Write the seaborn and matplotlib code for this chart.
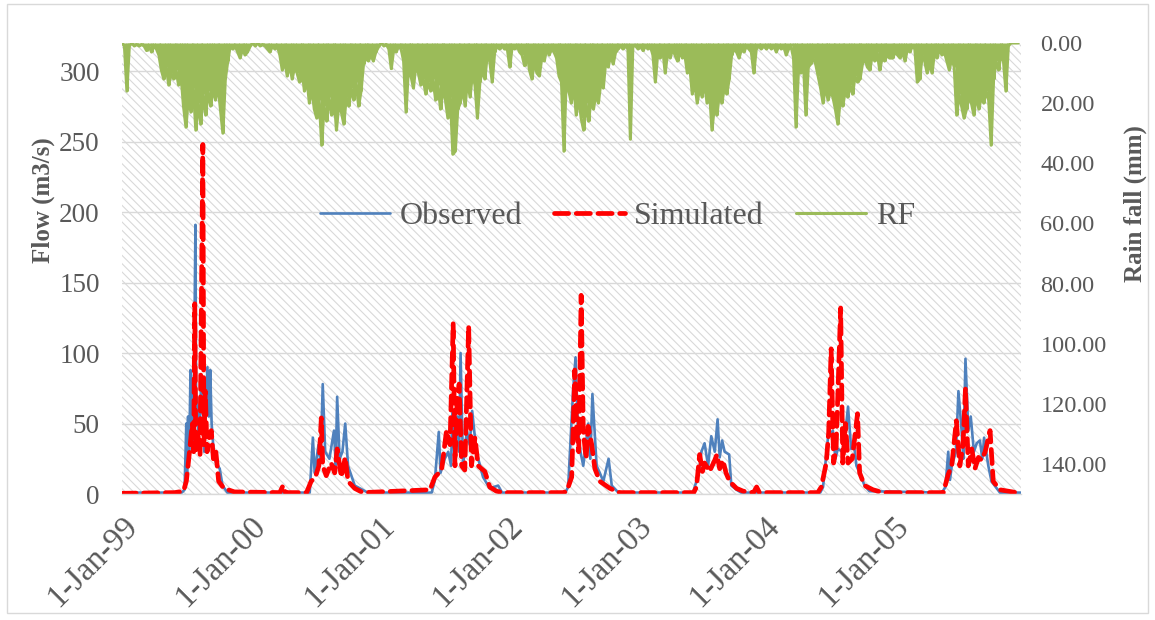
import pandas as pd
import seaborn as sns
import matplotlib.pyplot as plt
from matplotlib.patches import Rectangle

# Observed flow (m3/s), key points
obs_dates = [
    '1999-01-01', '1999-06-20', '1999-06-28', '1999-07-03', '1999-07-05', '1999-07-08', '1999-07-11',
    '1999-07-15', '1999-07-19', '1999-07-23', '1999-07-29', '1999-07-31', '1999-08-02', '1999-08-07',
    '1999-08-15', '1999-08-23', '1999-09-01', '1999-09-05', '1999-09-09', '1999-09-13', '1999-09-20',
    '1999-09-26', '1999-10-06', '1999-10-14', '1999-10-28',
    '2000-06-18', '2000-06-27', '2000-07-02', '2000-07-13', '2000-07-19', '2000-07-25', '2000-08-01',
    '2000-08-13', '2000-08-26', '2000-08-31', '2000-09-04', '2000-09-11', '2000-09-19', '2000-09-27',
    '2000-10-05', '2000-10-24', '2000-11-30',
    '2001-05-31', '2001-06-09', '2001-06-20', '2001-06-25', '2001-07-07', '2001-07-17', '2001-07-25',
    '2001-07-29', '2001-08-04', '2001-08-11', '2001-08-17', '2001-08-21', '2001-08-28', '2001-09-08',
    '2001-09-16', '2001-09-23', '2001-10-05', '2001-10-24', '2001-11-12', '2001-12-06', '2001-12-17',
    '2002-06-15', '2002-06-23', '2002-07-07', '2002-07-14', '2002-07-21', '2002-07-28', '2002-08-05',
    '2002-08-19', '2002-08-25', '2002-08-31', '2002-09-12', '2002-09-21', '2002-10-01', '2002-10-16',
    '2002-10-25', '2002-11-13',
    '2003-06-13', '2003-06-30', '2003-07-07', '2003-07-16', '2003-07-26', '2003-08-04', '2003-08-14',
    '2003-08-22', '2003-08-28', '2003-09-04', '2003-09-11', '2003-09-24', '2003-09-30', '2003-10-15',
    '2003-10-28',
    '2004-06-09', '2004-06-17', '2004-07-01', '2004-07-15', '2004-07-22', '2004-07-29', '2004-08-11',
    '2004-08-18', '2004-08-27', '2004-09-05', '2004-09-13', '2004-09-20', '2004-09-29', '2004-10-13',
    '2004-10-27',
    '2005-05-21', '2005-05-31', '2005-06-08', '2005-06-13', '2005-06-18', '2005-06-30', '2005-07-07',
    '2005-07-16', '2005-07-21', '2005-07-27', '2005-08-04', '2005-08-11', '2005-08-20', '2005-08-28',
    '2005-09-06', '2005-09-13', '2005-09-18', '2005-09-30', '2005-10-09', '2005-11-02', '2005-12-31',
]
obs_flow = [
    1, 1, 3, 50, 15, 55, 25, 88, 50, 35, 191, 60, 69, 40, 81, 30, 90, 55, 88, 50, 26, 22, 18, 6, 1,
    1, 40, 15, 35, 22, 78, 30, 25, 45, 20, 69, 25, 30, 50, 20, 6, 1,
    1, 10, 44, 15, 25, 30, 20, 60, 25, 55, 30, 100, 20, 45, 35, 59, 30, 12, 4, 6, 1,
    1, 5, 73, 97, 45, 30, 20, 50, 25, 71, 20, 15, 9, 25, 6, 1,
    1, 15, 30, 36, 20, 41, 30, 53, 26, 38, 30, 28, 6, 3, 1,
    1, 5, 40, 45, 25, 32, 30, 40, 62, 32, 35, 20, 15, 6, 2,
    1, 5, 30, 10, 20, 30, 73, 45, 25, 96, 45, 55, 30, 36, 38, 25, 40, 20, 9, 1, 1,
]

# Simulated flow (m3/s)
sim_dates = [
    '1999-01-01', '1999-05-31', '1999-06-25', '1999-07-03', '1999-07-10', '1999-07-20', '1999-07-24',
    '1999-07-27', '1999-07-30', '1999-08-04', '1999-08-11', '1999-08-19', '1999-08-22', '1999-08-26',
    '1999-08-31', '1999-09-06', '1999-09-12', '1999-09-18', '1999-09-25', '1999-10-03', '1999-10-18',
    '1999-11-17',
    '2000-03-25', '2000-04-03', '2000-04-10',
    '2000-06-09', '2000-06-22', '2000-07-04', '2000-07-14', '2000-07-21', '2000-07-25', '2000-08-04',
    '2000-08-18', '2000-08-28', '2000-09-04', '2000-09-16', '2000-09-27', '2000-10-05', '2000-10-24',
    '2000-11-16',
    '2001-05-26', '2001-06-09', '2001-06-28', '2001-07-12', '2001-07-22', '2001-07-31', '2001-08-05',
    '2001-08-11', '2001-08-17', '2001-08-24', '2001-09-02', '2001-09-13', '2001-09-21', '2001-10-01',
    '2001-10-10', '2001-10-29', '2001-11-12', '2001-12-01', '2001-12-20',
    '2002-06-10', '2002-06-19', '2002-07-03', '2002-07-12', '2002-07-17', '2002-07-23', '2002-07-30',
    '2002-08-05', '2002-08-13', '2002-08-19', '2002-08-29', '2002-09-07', '2002-09-21', '2002-10-20',
    '2002-11-17',
    '2003-06-15', '2003-06-23', '2003-07-02', '2003-07-10', '2003-07-16', '2003-07-30', '2003-08-14',
    '2003-08-20', '2003-08-28', '2003-09-06', '2003-09-15', '2003-09-25', '2003-10-15', '2003-11-03',
    '2003-12-02', '2003-12-11', '2003-12-19',
    '2004-06-02', '2004-06-12', '2004-06-26', '2004-07-03', '2004-07-10', '2004-07-17', '2004-07-24',
    '2004-08-06', '2004-08-12', '2004-08-20', '2004-08-27', '2004-09-08', '2004-09-23', '2004-09-29',
    '2004-10-13', '2004-11-06', '2004-12-05',
    '2005-05-25', '2005-06-08', '2005-06-18', '2005-07-01', '2005-07-11', '2005-07-20', '2005-07-27',
    '2005-08-04', '2005-08-14', '2005-08-23', '2005-09-02', '2005-09-11', '2005-09-21', '2005-10-05',
    '2005-10-14', '2005-11-02', '2005-12-19', '2005-12-31',
]
sim_flow = [
    0.5, 1, 2, 9, 25, 50, 30, 135, 30, 45, 28, 248, 35, 73, 30, 40, 45, 25, 30, 9, 4, 1.5,
    1, 6, 1,
    1, 9, 12, 20, 54, 20, 13, 22, 15, 32, 12, 26, 9, 4, 1,
    3, 12, 17, 45, 35, 121, 20, 66, 78, 20, 17, 119, 20, 40, 20, 16, 5, 2, 1,
    1, 2, 12, 88, 45, 30, 141, 45, 25, 48, 35, 18, 9, 4, 1,
    1, 5, 28, 16, 22, 16, 24, 28, 18, 24, 15, 9, 4, 2, 1, 5, 1,
    1, 5, 22, 44, 103, 22, 32, 132, 22, 50, 22, 25, 57, 15, 6, 3, 1,
    1, 14, 20, 52, 20, 35, 75, 20, 32, 18, 26, 24, 30, 45, 9, 3, 1, 0.5,
]

# Rainfall (mm), weekly readings per year
rain_1999 = [0, 1, 16, 1, 0, 1, 0.5, 1, 0.5, 1, 2.5, 1, 3, 1, 2, 4, 9, 12, 8, 14, 10, 12, 9, 14, 11, 21,
             28, 18, 23, 15, 29, 20, 27, 17, 24, 16, 21, 15, 19, 14, 22, 30, 12, 6, 1, 2, 1, 3, 5, 2, 4, 3]
rain_2000 = [1, 0, 1, 0, 1, 0.5, 1, 2, 3, 1, 2, 1, 4, 9, 6, 11, 7, 12, 8, 10, 13, 9, 16, 12, 20, 15,
             22, 25, 19, 34, 21, 26, 18, 24, 17, 29, 20, 23, 27, 18, 21, 15, 19, 13, 21, 16, 7, 5, 6, 4, 6, 3]
rain_2001 = [1, 0, 1, 0.5, 2, 8.5, 2, 3, 1, 2, 6, 23, 8, 11, 15, 7, 10, 14, 12, 17, 13, 16, 12, 19, 14, 22,
             15, 19, 25, 18, 37, 36, 22, 20, 15, 21, 12, 18, 10, 14, 25, 13, 9, 12, 4, 6, 13, 3, 1, 2, 1, 2]
rain_2002 = [2, 8, 1, 2, 1, 3, 4, 7.5, 3, 9, 12, 6, 10, 11, 5, 6, 2, 4, 2, 3, 5, 11, 13, 36, 10, 16,
             20, 14, 24, 18, 25, 29, 20, 26, 19, 22, 17, 20, 13, 15, 6, 8, 4, 7, 3, 2, 1, 2, 1, 2, 32, 1]
rain_2003 = [1, 2, 1, 2.5, 1, 2, 1, 4, 13, 3, 5, 2, 10, 3, 5, 2, 4, 6, 3, 5, 4, 10, 8, 17, 13, 20,
             15, 18, 13, 20, 16, 29, 21, 24, 17, 20, 15, 17, 12, 4, 2, 3, 5, 2, 3, 1, 2, 3, 10, 2, 1, 2]
rain_2004 = [1, 2, 1, 2, 1, 3, 1, 2, 1, 4, 2, 1, 5, 28, 9, 10, 6, 24, 8, 7, 5, 7, 11, 15, 20, 14,
             19, 16, 18, 22, 27, 19, 21, 16, 18, 14, 17, 11, 13, 12, 7, 5, 8, 9, 4, 6, 3, 9, 5, 6, 4, 5]
rain_2005 = [5, 3, 4, 5, 3, 6, 2, 3, 1, 2, 13, 12, 4, 6, 10, 7, 10, 3, 5, 2, 4, 3, 6, 9, 5, 8,
             24, 17, 21, 25, 22, 18, 20, 24, 17, 22, 18, 20, 16, 19, 34, 12, 6, 9, 4, 6, 16, 1, 0, 0, 0, 0]
rain_years = [1999, 2000, 2001, 2002, 2003, 2004, 2005]

flow_ticks = [0, 50, 100, 150, 200, 250, 300]
rain_ticks = [0, 20, 40, 60, 80, 100, 120, 140]
rain_tick_labels = ['0.00', '20.00', '40.00', '60.00', '80.00', '100.00', '120.00', '140.00']
xtick_dates = ['1999-01-01', '2000-01-01', '2001-01-01', '2002-01-01', '2003-01-01', '2004-01-01', '2005-01-01']
xtick_labels = ['1-Jan-99', '1-Jan-00', '1-Jan-01', '1-Jan-02', '1-Jan-03', '1-Jan-04', '1-Jan-05']

# tables for seaborn
obs = pd.DataFrame({'date': pd.to_datetime(obs_dates), 'flow': obs_flow})
sim = pd.DataFrame({'date': pd.to_datetime(sim_dates), 'flow': sim_flow})
rain_parts = []
for yr, vals in zip(rain_years, [rain_1999, rain_2000, rain_2001, rain_2002, rain_2003, rain_2004, rain_2005]):
    rain_parts.append(pd.DataFrame({'date': pd.date_range(f'{yr}-01-01', periods=len(vals), freq='7D'),
                                    'rain': vals}))
rain = pd.concat(rain_parts, ignore_index=True)

sns.set_theme(style='white')
plt.rcParams['font.family'] = ['Liberation Serif', 'DejaVu Serif']
plt.rcParams['hatch.color'] = '#d9d9d9'
plt.rcParams['hatch.linewidth'] = 0.8

grey = '#595959'
green = '#9bbb59'
fig = plt.figure(figsize=(11.55, 6.2), dpi=100)
ax = fig.add_axes([0.1056, 0.2032, 0.7784, 0.7274])

# hatched plot area (light downward diagonal)
ax.add_patch(Rectangle((0, 0), 1, 1, transform=ax.transAxes, facecolor='white',
                       edgecolor='#d9d9d9', hatch='\\' * 4, lw=0, zorder=0))
ax.set_axisbelow(True)
ax.grid(axis='y', color='#d9d9d9', lw=1.0)
ax.grid(axis='x', visible=False)

sns.lineplot(data=obs, x='date', y='flow', ax=ax, color='#4f81bd', lw=1.9,
             estimator=None, label='Observed')
sns.lineplot(data=sim, x='date', y='flow', ax=ax, color='#ff0000', lw=3.4,
             linestyle=(0, (3, 1.6)), dash_capstyle='round', estimator=None, label='Simulated')

# rainfall hangs from the top of the inverted right axis
ax2 = ax.twinx()
ax2.vlines(rain['date'], 0, rain['rain'], colors=green, lw=2.2)
sns.lineplot(data=rain, x='date', y='rain', ax=ax2, color=green, lw=2.2,
             estimator=None, label='RF')

h1, l1 = ax.get_legend_handles_labels()
h2, l2 = ax2.get_legend_handles_labels()
ax.get_legend().remove()
ax2.get_legend().remove()

ax.set_xlim(pd.Timestamp('1999-01-01'), pd.Timestamp('2006-01-01'))
ax.set_ylim(0, 320)
ax.set_yticks(flow_ticks)
ax.set_yticklabels([str(t) for t in flow_ticks], fontsize=19.5, color=grey)
ax.set_xticks(pd.to_datetime(xtick_dates))
ax.set_xticklabels(xtick_labels, rotation=45, ha='right', rotation_mode='anchor',
                   fontsize=23.5, color=grey)
ax.tick_params(axis='y', length=0, pad=16)
ax.tick_params(axis='x', length=6, width=1, color='#d9d9d9', pad=6, direction='out')

ax2.set_ylim(150, 0)
ax2.set_yticks(rain_ticks)
ax2.set_yticklabels(rain_tick_labels, fontsize=17.5, color=grey)
ax2.tick_params(axis='y', length=0, pad=14)

ax.set_xlabel('')
ax.set_ylabel('Flow (m3/s)', fontsize=18, fontweight='bold', color=grey, va='center')
ax.yaxis.set_label_coords(-0.088, 0.652)
ax2.set_ylabel('Rain fall (mm)', fontsize=18, fontweight='bold', color=grey, va='center', rotation=90)
ax2.yaxis.set_label_coords(1.127, 0.645)

for s in ['top', 'right', 'left']:
    ax.spines[s].set_visible(False)
ax.spines['bottom'].set_color('#d9d9d9')
ax.spines['bottom'].set_linewidth(1.0)
for s in ax2.spines.values():
    s.set_visible(False)

leg = ax2.legend(h1 + h2, l1 + l2, loc='center', bbox_to_anchor=(0.551, 0.616), ncol=3,
                 frameon=False, fontsize=23, handlelength=2.2, handletextpad=0.3, columnspacing=1.0)
for t in leg.get_texts():
    t.set_color(grey)

fig.add_artist(Rectangle((0.006, 0.011), 0.988, 0.983, transform=fig.transFigure,
                         fill=False, edgecolor='#d9d9d9', lw=1))

fig.savefig('out.png', dpi=100)
